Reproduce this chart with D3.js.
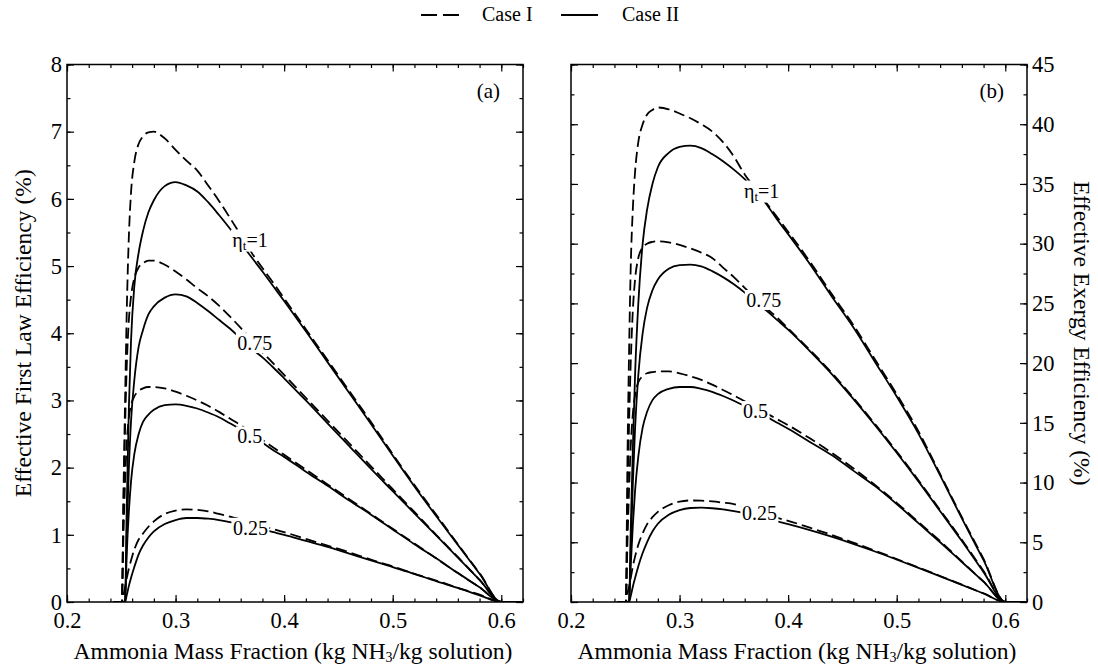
<!DOCTYPE html>
<html>
<head>
<meta charset="utf-8">
<script src="https://cdn.jsdelivr.net/npm/d3@7"></script>
<style>
  html, body { margin: 0; padding: 0; background: #fff; }
  svg, svg text { font-family: "Liberation Serif", "Tinos", "Times New Roman", "DejaVu Serif", serif; }
  svg { display: block; }
</style>
</head>
<body>
<svg id="chart" width="1098" height="670"></svg>
<script>
// Ammonia mass fraction grid (kg NH3 / kg solution)
const massFraction = [0.2425, 0.2505, 0.252, 0.2535, 0.255, 0.257, 0.259, 0.262, 0.266, 0.27, 0.275, 0.28,
  0.29, 0.30, 0.31, 0.32, 0.33, 0.34, 0.35, 0.36, 0.37, 0.38, 0.39, 0.40, 0.42, 0.44, 0.46, 0.48,
  0.50, 0.52, 0.54, 0.56, 0.58, 0.60, 0.62];

// (a) Effective first law efficiency (%), Case I (dashed)
const firstLawCaseI_eta1 = [0, 0, 1.6, 3.0, 4.3, 5.45, 6.1, 6.55, 6.82, 6.93, 6.99, 7.0,
  6.9, 6.73, 6.57, 6.42, 6.2, 5.97, 5.72, 5.46, 5.2, 4.97, 4.75, 4.52, 4.06, 3.6, 3.14, 2.68,
  2.2, 1.74, 1.3, 0.86, 0.43, 0, 0];
const firstLawCaseI_eta075 = [0, 0, 1.4, 2.6, 3.5, 4.2, 4.55, 4.82, 4.98, 5.04, 5.08, 5.08,
  5.02, 4.92, 4.8, 4.67, 4.55, 4.41, 4.25, 4.08, 3.9, 3.72, 3.55, 3.38, 3.04, 2.7, 2.36, 2.02,
  1.68, 1.34, 1.0, 0.67, 0.33, 0, 0];
const firstLawCaseI_eta05 = [0, 0, 1.0, 1.8, 2.35, 2.75, 2.93, 3.06, 3.14, 3.18, 3.2, 3.2,
  3.18, 3.13, 3.07, 3.0, 2.92, 2.83, 2.73, 2.63, 2.52, 2.41, 2.3, 2.19, 1.97, 1.75, 1.53, 1.31,
  1.09, 0.87, 0.65, 0.43, 0.22, 0, 0];
const firstLawCaseI_eta025 = [0, 0, 0.1, 0.22, 0.35, 0.5, 0.62, 0.78, 0.93, 1.02, 1.12, 1.2,
  1.31, 1.36, 1.38, 1.37, 1.35, 1.31, 1.27, 1.23, 1.18, 1.13, 1.085, 1.04, 0.94, 0.84, 0.74, 0.63,
  0.53, 0.42, 0.32, 0.21, 0.11, 0, 0];

// (a) Effective first law efficiency (%), Case II (solid)
const firstLawCaseII_eta1 = [0, 0, 0, 0, 1.4, 2.9, 3.9, 4.7, 5.2, 5.52, 5.8, 5.98,
  6.19, 6.25, 6.2, 6.11, 5.95, 5.76, 5.56, 5.35, 5.13, 4.92, 4.7, 4.48, 4.03, 3.57, 3.11, 2.65,
  2.18, 1.72, 1.28, 0.85, 0.42, 0, 0];
const firstLawCaseII_eta075 = [0, 0, 0, 0, 1.0, 2.0, 2.7, 3.3, 3.8, 4.05, 4.28, 4.4,
  4.53, 4.58, 4.55, 4.45, 4.33, 4.2, 4.07, 3.92, 3.77, 3.64, 3.49, 3.33, 3.0, 2.66, 2.32, 1.98,
  1.65, 1.32, 0.99, 0.66, 0.33, 0, 0];
const firstLawCaseII_eta05 = [0, 0, 0, 0, 0.7, 1.35, 1.8, 2.2, 2.5, 2.68, 2.79, 2.86,
  2.93, 2.94, 2.92, 2.88, 2.82, 2.75, 2.66, 2.57, 2.47, 2.37, 2.26, 2.16, 1.94, 1.73, 1.51, 1.3,
  1.08, 0.86, 0.65, 0.43, 0.22, 0, 0];
const firstLawCaseII_eta025 = [0, 0, 0, 0, 0.1, 0.24, 0.36, 0.52, 0.71, 0.84, 0.96, 1.05,
  1.16, 1.22, 1.25, 1.25, 1.24, 1.22, 1.19, 1.16, 1.12, 1.08, 1.04, 1.0, 0.91, 0.82, 0.72, 0.62,
  0.52, 0.42, 0.31, 0.21, 0.1, 0, 0];

// (b) Effective exergy efficiency (%), Case I (dashed)
const exergyCaseI_eta1 = [0, 0, 12, 21, 28, 33, 36, 38.5, 40.0, 40.8, 41.2, 41.4,
  41.25, 40.9, 40.5, 40.0, 39.4, 38.5, 37.3, 35.8, 34.6, 33.4, 32.2, 31.0, 28.5, 25.8, 23.2, 20.3,
  17.4, 14.3, 10.7, 7.1, 3.6, 0, 0];
const exergyCaseI_eta075 = [0, 0, 8, 15, 20, 24.5, 27, 28.8, 29.7, 30.0, 30.15, 30.2,
  30.1, 29.9, 29.6, 29.25, 28.8, 28.0, 27.2, 26.3, 25.4, 24.6, 23.8, 22.9, 21.1, 19.2, 17.1, 14.9,
  12.6, 10.2, 7.7, 5.2, 2.6, 0, 0];
const exergyCaseI_eta05 = [0, 0, 5, 9.5, 13, 15.8, 17.3, 18.4, 18.9, 19.15, 19.25, 19.3,
  19.3, 19.15, 18.9, 18.6, 18.2, 17.75, 17.3, 16.8, 16.3, 15.8, 15.3, 14.8, 13.7, 12.5, 11.2, 9.8,
  8.3, 6.7, 5.1, 3.4, 1.7, 0, 0];
const exergyCaseI_eta025 = [0, 0, 0.7, 1.3, 2.0, 3.0, 3.8, 4.8, 5.75, 6.5, 7.1, 7.55,
  8.1, 8.4, 8.5, 8.48, 8.42, 8.32, 8.2, 7.95, 7.65, 7.35, 7.05, 6.8, 6.22, 5.62, 4.97, 4.3,
  3.6, 2.9, 2.18, 1.45, 0.72, 0, 0];

// (b) Effective exergy efficiency (%), Case II (solid)
const exergyCaseII_eta1 = [0, 0, 0, 0, 6, 13, 19, 25, 30, 32.8, 35, 36.4,
  37.6, 38.1, 38.2, 38.0, 37.5, 36.9, 36.2, 35.4, 34.4, 33.3, 32.0, 30.8, 28.3, 25.6, 23.0, 20.1,
  17.2, 14.1, 10.6, 7.0, 3.5, 0, 0];
const exergyCaseII_eta075 = [0, 0, 0, 0, 4.5, 10, 14.5, 19, 22.5, 24.6, 26.1, 27.0,
  27.9, 28.2, 28.25, 28.1, 27.7, 27.2, 26.6, 25.9, 25.1, 24.4, 23.6, 22.8, 21.0, 19.1, 17.0, 14.8,
  12.5, 10.1, 7.6, 5.1, 2.5, 0, 0];
const exergyCaseII_eta05 = [0, 0, 0, 0, 3, 6.5, 9.3, 12.2, 14.6, 15.9, 16.9, 17.4,
  17.85, 18.0, 18.0, 17.85, 17.6, 17.25, 16.85, 16.4, 15.95, 15.5, 15.0, 14.5, 13.4, 12.3, 11.0, 9.7,
  8.2, 6.6, 5.0, 3.35, 1.7, 0, 0];
const exergyCaseII_eta025 = [0, 0, 0, 0, 0.5, 1.3, 2.0, 3.0, 4.1, 5.0, 5.9, 6.55,
  7.3, 7.7, 7.87, 7.9, 7.85, 7.75, 7.6, 7.42, 7.2, 6.97, 6.75, 6.52, 6.02, 5.47, 4.87, 4.23,
  3.55, 2.86, 2.15, 1.43, 0.71, 0, 0];

// Turbine efficiency labels and where they sit (mass fraction, efficiency at baseline)
const etaLabelText = ["1", "0.75", "0.5", "0.25"];
const firstLawLabelAt = [[0.3523, 5.29], [0.3569, 3.75], [0.3569, 2.36], [0.3528, 1.0]];
const exergyLabelAt = [[0.3593, 33.86], [0.3615, 24.7], [0.3585, 15.4], [0.3574, 6.86]];

// Axis ticks
const xMajorTicks = [0.2, 0.3, 0.4, 0.5, 0.6];
const xMinorTicks = d3.range(0.2, 0.621, 0.02);
const firstLawMajorTicks = [0, 1, 2, 3, 4, 5, 6, 7, 8];
const firstLawMinorTicks = d3.range(0, 8.01, 0.5);
const exergyMajorTicks = [0, 5, 10, 15, 20, 25, 30, 35, 40, 45];
const exergyMinorTicks = d3.range(0, 45.01, 2.5);

const caseNames = ["Case I", "Case II"];

// ---------------------------------------------------------------------------
const serif = '"Liberation Serif", "Tinos", "Times New Roman", "DejaVu Serif", serif';
const svg = d3.select("#chart").attr("font-family", serif);
const plotTop = 64.5, plotBottom = 602;
const panelA = { x0: 67, x1: 523 };
const panelB = { x0: 571, x1: 1027 };
const dashPattern = "11,5";
const lineWidth = 1.8;
const tickFontSize = 22.5;
const titleFontSize = 23.6;

function drawPanel(p, opts) {
  const x = d3.scaleLinear().domain([0.2, 0.62]).range([p.x0, p.x1]);
  const y = d3.scaleLinear().domain(opts.yDomain).range([plotBottom, plotTop]);
  const g = svg.append("g");

  const clipId = "clip-" + opts.tag;
  svg.append("clipPath").attr("id", clipId)
    .append("rect").attr("x", p.x0).attr("y", plotTop)
    .attr("width", p.x1 - p.x0).attr("height", plotBottom - plotTop);

  const line = d3.line()
    .x((d, i) => x(massFraction[i]))
    .y(d => y(d))
    .curve(d3.curveMonotoneX);

  const curves = g.append("g").attr("clip-path", `url(#${clipId})`);
  opts.series.forEach(s => {
    curves.append("path")
      .attr("d", line(s.values))
      .attr("fill", "none")
      .attr("stroke", "#000")
      .attr("stroke-width", lineWidth)
      .attr("stroke-dasharray", s.dashed ? dashPattern : null);
  });

  // In-plot efficiency labels, each with a white patch that interrupts the curves
  opts.labels.forEach((pos, i) => {
    const lg = g.append("g");
    const t = lg.append("text")
      .attr("x", x(pos[0])).attr("y", y(pos[1]))
      .attr("font-size", 20).attr("fill", "#000");
    if (i === 0) {
      t.append("tspan").text("η");
      t.append("tspan").attr("font-size", 13).attr("dy", 3).text("t");
      t.append("tspan").attr("dy", -3).text("=" + etaLabelText[i]);
    } else {
      t.text(etaLabelText[i]);
    }
    const bb = t.node().getBBox();
    lg.insert("rect", "text")
      .attr("x", bb.x - 1.5).attr("y", bb.y + 1)
      .attr("width", bb.width + 3).attr("height", bb.height - 2)
      .attr("fill", "#fff");
  });

  // Ticks, all pointing into the frame
  const tickFont = sel => {
    sel.attr("font-family", serif);
    sel.selectAll("text").attr("font-size", tickFontSize).attr("fill", "#000");
  };
  const clean = sel => {
    sel.attr("font-family", serif);
    sel.select(".domain").remove();
    sel.selectAll("line").attr("stroke", "#000").attr("stroke-width", 1.2);
  };

  g.append("g").attr("transform", `translate(0,${plotBottom})`)
    .call(d3.axisBottom(x).tickValues(xMinorTicks).tickSize(-3.5).tickFormat(""))
    .call(clean);
  g.append("g").attr("transform", `translate(0,${plotBottom})`)
    .call(d3.axisBottom(x).tickValues(xMajorTicks).tickSize(-7).tickPadding(10).tickFormat(d3.format(".1f")))
    .call(clean).call(tickFont);
  g.append("g").attr("transform", `translate(0,${plotTop})`)
    .call(d3.axisTop(x).tickValues(xMinorTicks).tickSize(-3.5).tickFormat(""))
    .call(clean);
  g.append("g").attr("transform", `translate(0,${plotTop})`)
    .call(d3.axisTop(x).tickValues(xMajorTicks).tickSize(-7).tickFormat(""))
    .call(clean);

  const leftLabelled = opts.side === "left";
  g.append("g").attr("transform", `translate(${p.x0},0)`)
    .call(d3.axisLeft(y).tickValues(opts.minor).tickSize(-3.5).tickFormat(""))
    .call(clean);
  g.append("g").attr("transform", `translate(${p.x0},0)`)
    .call(d3.axisLeft(y).tickValues(opts.major).tickSize(-7).tickPadding(5)
      .tickFormat(leftLabelled ? d3.format("d") : ""))
    .call(clean).call(tickFont);
  g.append("g").attr("transform", `translate(${p.x1},0)`)
    .call(d3.axisRight(y).tickValues(opts.minor).tickSize(-3.5).tickFormat(""))
    .call(clean);
  g.append("g").attr("transform", `translate(${p.x1},0)`)
    .call(d3.axisRight(y).tickValues(opts.major).tickSize(-7).tickPadding(5)
      .tickFormat(leftLabelled ? "" : d3.format("d")))
    .call(clean).call(tickFont);

  // Frame
  g.append("rect")
    .attr("x", p.x0).attr("y", plotTop)
    .attr("width", p.x1 - p.x0).attr("height", plotBottom - plotTop)
    .attr("fill", "none").attr("stroke", "#000").attr("stroke-width", 1.5);

  // Panel tag
  g.append("text")
    .attr("x", p.x1 - 23).attr("y", 98)
    .attr("text-anchor", "end").attr("font-size", 21)
    .text(opts.tagText);

  // X title
  const xt = g.append("text")
    .attr("x", (p.x0 + p.x1) / 2 - 2).attr("y", 659)
    .attr("text-anchor", "middle").attr("font-size", titleFontSize);
  xt.append("tspan").text("Ammonia Mass Fraction (kg NH");
  xt.append("tspan").attr("font-size", 14).attr("dy", 3).text("3");
  xt.append("tspan").attr("dy", -3).text("/kg solution)");
}

drawPanel(panelA, {
  tag: "a", tagText: "(a)", side: "left",
  yDomain: [0, 8], major: firstLawMajorTicks, minor: firstLawMinorTicks,
  labels: firstLawLabelAt,
  series: [
    { values: firstLawCaseI_eta1, dashed: true },
    { values: firstLawCaseI_eta075, dashed: true },
    { values: firstLawCaseI_eta05, dashed: true },
    { values: firstLawCaseI_eta025, dashed: true },
    { values: firstLawCaseII_eta1, dashed: false },
    { values: firstLawCaseII_eta075, dashed: false },
    { values: firstLawCaseII_eta05, dashed: false },
    { values: firstLawCaseII_eta025, dashed: false }
  ]
});

drawPanel(panelB, {
  tag: "b", tagText: "(b)", side: "right",
  yDomain: [0, 45], major: exergyMajorTicks, minor: exergyMinorTicks,
  labels: exergyLabelAt,
  series: [
    { values: exergyCaseI_eta1, dashed: true },
    { values: exergyCaseI_eta075, dashed: true },
    { values: exergyCaseI_eta05, dashed: true },
    { values: exergyCaseI_eta025, dashed: true },
    { values: exergyCaseII_eta1, dashed: false },
    { values: exergyCaseII_eta075, dashed: false },
    { values: exergyCaseII_eta05, dashed: false },
    { values: exergyCaseII_eta025, dashed: false }
  ]
});

// Y titles
svg.append("text")
  .attr("transform", `translate(31,${(plotTop + plotBottom) / 2}) rotate(-90)`)
  .attr("text-anchor", "middle").attr("font-size", titleFontSize)
  .text("Effective First Law Efficiency (%)");
svg.append("text")
  .attr("transform", `translate(1074,${(plotTop + plotBottom) / 2}) rotate(90)`)
  .attr("text-anchor", "middle").attr("font-size", titleFontSize)
  .text("Effective Exergy Efficiency (%)");

// Legend
const legend = svg.append("g");
const legendItems = [
  { name: caseNames[0], x1: 421, x2: 459, tx: 482, dashed: true },
  { name: caseNames[1], x1: 561, x2: 598, tx: 622, dashed: false }
];
legendItems.forEach(it => {
  legend.append("line")
    .attr("x1", it.x1).attr("x2", it.x2).attr("y1", 15).attr("y2", 15)
    .attr("stroke", "#000").attr("stroke-width", 2)
    .attr("stroke-dasharray", it.dashed ? "16,6" : null);
  legend.append("text")
    .attr("x", it.tx).attr("y", 21).attr("font-size", 20)
    .text(it.name);
});
</script>
</body>
</html>
